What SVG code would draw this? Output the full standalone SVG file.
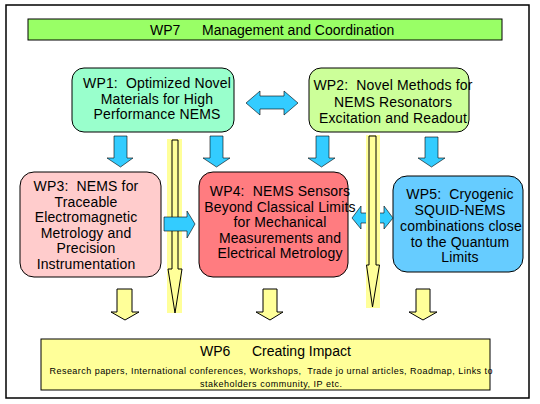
<svg xmlns="http://www.w3.org/2000/svg" width="540" height="404" viewBox="0 0 540 404" xml:space="preserve">
<style>
text{font-family:"Liberation Sans",Arial,sans-serif;fill:#000;white-space:pre}
.t{font-size:14px;text-anchor:middle;letter-spacing:0.15px}
.s{font-size:9px;text-anchor:middle}
.box{stroke:#000;stroke-width:1}
.blue{fill:#33CCFF;stroke:#000;stroke-width:0.6}
.yel{fill:#FFFF99;stroke:#000;stroke-width:1}
.halo{fill:#FFFF99;stroke:none}
</style>
<rect x="6" y="5" width="523" height="393" fill="#fff" stroke="#000" stroke-width="1.5"/>
<g id="wp7">
<rect class="box" x="28" y="19" width="474" height="21" fill="#99FF66"/>
<text style="font-size:14px" y="35"><tspan x="150">WP7</tspan><tspan x="202">Management and Coordination</tspan></text>
</g>
<g id="wp1">
<rect class="box" x="72" y="68" width="162" height="64" rx="12" fill="#99FFCC"/>
<text class="t" x="157" y="88">WP1:  Optimized Novel</text>
<text class="t" x="157" y="103.5">Materials for High</text>
<text class="t" x="157" y="119">Performance NEMS</text>
</g>
<g id="wp2">
<rect class="box" x="309" y="68" width="160" height="64" rx="12" fill="#CCFF99"/>
<text class="t" x="393" y="90">WP2:  Novel Methods for</text>
<text class="t" x="393" y="106.5">NEMS Resonators</text>
<text class="t" x="393" y="123">Excitation and Readout</text>
</g>
<g id="wp3">
<rect class="box" x="20" y="172" width="141" height="105" rx="14" fill="#FFCCCC"/>
<text class="t" x="86" y="191">WP3:  NEMS for</text>
<text class="t" x="86" y="206.6">Traceable</text>
<text class="t" x="86" y="222.2">Electromagnetic</text>
<text class="t" x="86" y="237.8">Metrology and</text>
<text class="t" x="86" y="253.4">Precision</text>
<text class="t" x="86" y="269">Instrumentation</text>
</g>
<g id="wp4">
<rect class="box" x="199" y="172" width="149" height="105" rx="14" fill="#FF7C80"/>
<text class="t" x="280" y="196">WP4:  NEMS Sensors</text>
<text class="t" x="280" y="211.5">Beyond Classical Limits</text>
<text class="t" x="280" y="227">for Mechanical</text>
<text class="t" x="280" y="242.5">Measurements and</text>
<text class="t" x="280" y="258">Electrical Metrology</text>
</g>
<g id="wp5">
<rect class="box" x="393" y="176" width="130" height="96" rx="14" fill="#66CCFF"/>
<text class="t" x="460" y="199">WP5:  Cryogenic</text>
<text class="t" x="460" y="215">SQUID-NEMS</text>
<text class="t" x="461" y="231">combinations close</text>
<text class="t" x="460" y="247">to the Quantum</text>
<text class="t" x="460" y="262">Limits</text>
</g>
<g id="wp6">
<rect class="box" x="41" y="339" width="449" height="51" fill="#FFFF99"/>
<text style="font-size:14px" y="356"><tspan x="200">WP6</tspan><tspan x="252">Creating Impact</tspan></text>
<text class="s" x="271" y="374" textLength="443" lengthAdjust="spacing">Research papers, International conferences, Workshops,  Trade jo urnal articles, Roadmap, Links to</text>
<text class="s" x="271" y="387" textLength="142" lengthAdjust="spacing">stakeholders community, IP etc.</text>
</g>
<g id="connectors">
<path class="blue" d="M114,136 H127 V158 H133 L120.5,167 L107,158 H114 Z"/>
<path class="blue" d="M210,136 H223 V158 H230 L216.5,167 L203,158 H210 Z"/>
<path class="blue" d="M316,136 H329 V158 H335 L321.5,167 L308,158 H316 Z"/>
<path class="blue" d="M425,137 H438 V158 H445 L431.5,167 L418,158 H425 Z"/>
<path class="blue" d="M246,103 L260,91 V96 H284 V91 L298,103 L284,115 V109 H260 V115 Z"/>
<rect class="halo" x="167" y="139" width="15" height="174"/>
<path class="yel" d="M172,140 H178 V269 H182 L175,313 L168,269 H172 Z"/>
<path class="blue" d="M164,217 H187 V211 L195,224 L187,238 V231 H164 Z"/>
<path class="blue" d="M352,218 L361,206 V213 H384 V206 L393,218 L384,229 V223 H361 V229 Z"/>
<rect class="halo" x="366" y="135" width="14" height="173"/>
<path class="yel" d="M369,136 H376 V265 H379.5 L372.5,307 L366.5,265 H369 Z"/>
<path class="yel" d="M117,289 H132 V312 H139 L125,320 L111,312 H117 Z"/>
<path class="yel" d="M263,289 H277 V312 H283 L270,320 L256,312 H263 Z"/>
<path class="yel" d="M416,289 H430 V312 H437 L423,320 L409,312 H416 Z"/>
</g>
</svg>
